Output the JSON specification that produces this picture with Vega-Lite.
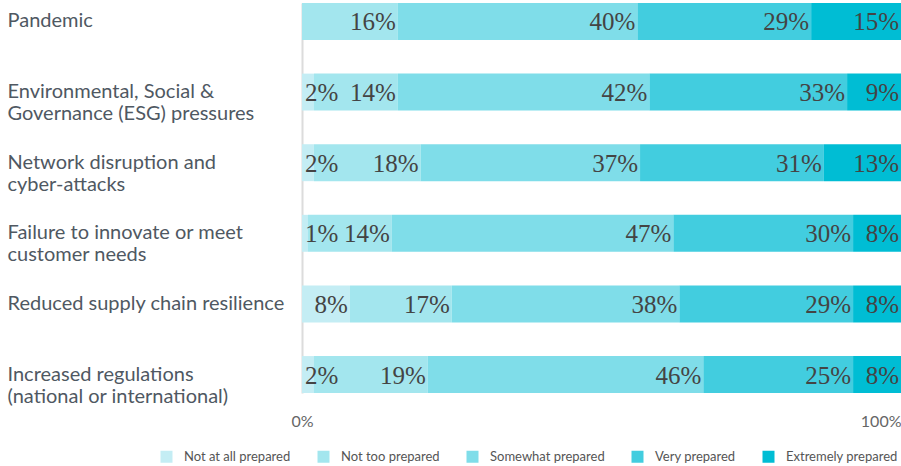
{
  "$schema": "https://vega.github.io/schema/vega-lite/v6.json",
  "autosize": "none",
  "width": 599,
  "height": 390,
  "padding": {"left": 302, "top": 3, "right": 0, "bottom": 73},
  "background": "white",
  "config": {"view": {"stroke": null}},
  "data": {
    "values": [
      {"risk": "Pandemic", "level": "Not too prepared", "k": 2, "value": 16, "label": "16%"},
      {"risk": "Pandemic", "level": "Somewhat prepared", "k": 3, "value": 40, "label": "40%"},
      {"risk": "Pandemic", "level": "Very prepared", "k": 4, "value": 29, "label": "29%"},
      {"risk": "Pandemic", "level": "Extremely prepared", "k": 5, "value": 15, "label": "15%"},
      {"risk": "Environmental, Social &|Governance (ESG) pressures", "level": "Not at all prepared", "k": 1, "value": 2, "label": "2%"},
      {"risk": "Environmental, Social &|Governance (ESG) pressures", "level": "Not too prepared", "k": 2, "value": 14, "label": "14%"},
      {"risk": "Environmental, Social &|Governance (ESG) pressures", "level": "Somewhat prepared", "k": 3, "value": 42, "label": "42%"},
      {"risk": "Environmental, Social &|Governance (ESG) pressures", "level": "Very prepared", "k": 4, "value": 33, "label": "33%"},
      {"risk": "Environmental, Social &|Governance (ESG) pressures", "level": "Extremely prepared", "k": 5, "value": 9, "label": "9%"},
      {"risk": "Network disruption and|cyber-attacks", "level": "Not at all prepared", "k": 1, "value": 2, "label": "2%"},
      {"risk": "Network disruption and|cyber-attacks", "level": "Not too prepared", "k": 2, "value": 18, "label": "18%"},
      {"risk": "Network disruption and|cyber-attacks", "level": "Somewhat prepared", "k": 3, "value": 37, "label": "37%"},
      {"risk": "Network disruption and|cyber-attacks", "level": "Very prepared", "k": 4, "value": 31, "label": "31%"},
      {"risk": "Network disruption and|cyber-attacks", "level": "Extremely prepared", "k": 5, "value": 13, "label": "13%"},
      {"risk": "Failure to innovate or meet|customer needs", "level": "Not at all prepared", "k": 1, "value": 1, "label": "1%"},
      {"risk": "Failure to innovate or meet|customer needs", "level": "Not too prepared", "k": 2, "value": 14, "label": "14%"},
      {"risk": "Failure to innovate or meet|customer needs", "level": "Somewhat prepared", "k": 3, "value": 47, "label": "47%"},
      {"risk": "Failure to innovate or meet|customer needs", "level": "Very prepared", "k": 4, "value": 30, "label": "30%"},
      {"risk": "Failure to innovate or meet|customer needs", "level": "Extremely prepared", "k": 5, "value": 8, "label": "8%"},
      {"risk": "Reduced supply chain resilience", "level": "Not at all prepared", "k": 1, "value": 8, "label": "8%"},
      {"risk": "Reduced supply chain resilience", "level": "Not too prepared", "k": 2, "value": 17, "label": "17%"},
      {"risk": "Reduced supply chain resilience", "level": "Somewhat prepared", "k": 3, "value": 38, "label": "38%"},
      {"risk": "Reduced supply chain resilience", "level": "Very prepared", "k": 4, "value": 29, "label": "29%"},
      {"risk": "Reduced supply chain resilience", "level": "Extremely prepared", "k": 5, "value": 8, "label": "8%"},
      {"risk": "Increased regulations|(national or international)", "level": "Not at all prepared", "k": 1, "value": 2, "label": "2%"},
      {"risk": "Increased regulations|(national or international)", "level": "Not too prepared", "k": 2, "value": 19, "label": "19%"},
      {"risk": "Increased regulations|(national or international)", "level": "Somewhat prepared", "k": 3, "value": 46, "label": "46%"},
      {"risk": "Increased regulations|(national or international)", "level": "Very prepared", "k": 4, "value": 25, "label": "25%"},
      {"risk": "Increased regulations|(national or international)", "level": "Extremely prepared", "k": 5, "value": 8, "label": "8%"}
    ]
  },
  "transform": [
    {"stack": "value", "groupby": ["risk"], "sort": [{"field": "k", "order": "ascending"}], "offset": "normalize", "as": ["x0", "x1"]}
  ],
  "encoding": {
    "y": {
      "field": "risk",
      "type": "nominal",
      "sort": null,
      "title": null,
      "scale": {"paddingInner": 0.477, "paddingOuter": 0},
      "axis": {
        "labelExpr": "split(datum.label, '|')",
        "labelAlign": "left",
        "labelBaseline": "middle",
        "labelPadding": 295,
        "labelLimit": 290,
        "ticks": false,
        "tickSize": 0,
        "labelFont": "Lato",
        "labelFontSize": 20,
        "labelLineHeight": 22,
        "labelColor": "#4f5862",
        "domainColor": "#dcdcdc",
        "domainWidth": 2,
        "grid": false
      }
    }
  },
  "layer": [
    {
      "mark": {"type": "bar"},
      "encoding": {
        "x": {
          "field": "x0",
          "type": "quantitative",
          "title": null,
          "scale": {"domain": [0, 1], "nice": false},
          "axis": {
            "values": [0, 1],
            "format": ".0%",
            "domain": false,
            "ticks": false,
            "grid": false,
            "labelFont": "Lato",
            "labelFontSize": 16,
            "labelColor": "#666666",
            "labelPadding": 20,
            "labelAlign": {"expr": "datum.value == 1 ? 'right' : 'center'"}
          }
        },
        "x2": {"field": "x1"},
        "color": {
          "field": "level",
          "type": "nominal",
          "scale": {
            "domain": ["Not at all prepared", "Not too prepared", "Somewhat prepared", "Very prepared", "Extremely prepared"],
            "range": ["#c4edf4", "#a3e6ee", "#7fdde9", "#42cddf", "#00bdd4"]
          },
          "legend": {
            "title": null,
            "orient": "none",
            "direction": "horizontal",
            "legendX": -142,
            "legendY": 447,
            "padding": 0,
            "symbolType": "square",
            "symbolSize": 144,
            "symbolStrokeWidth": 0,
            "labelFont": "Lato",
            "labelFontSize": 13,
            "labelColor": "#555555",
            "labelOffset": 11,
            "columnPadding": 26,
            "labelLimit": 200
          }
        }
      }
    },
    {
      "transform": [{"filter": "datum.value >= 5"}],
      "mark": {"type": "text", "align": "right", "baseline": "middle", "dx": -2, "dy": 1, "font": "Liberation Serif", "fontSize": 25, "color": "#444444"},
      "encoding": {
        "x": {"field": "x1", "type": "quantitative"},
        "text": {"field": "label", "type": "nominal"}
      }
    },
    {
      "transform": [{"filter": "datum.value < 5"}],
      "mark": {"type": "text", "align": "left", "baseline": "middle", "dx": 3, "dy": 1, "font": "Liberation Serif", "fontSize": 25, "color": "#444444"},
      "encoding": {
        "x": {"field": "x0", "type": "quantitative"},
        "text": {"field": "label", "type": "nominal"}
      }
    }
  ]
}
